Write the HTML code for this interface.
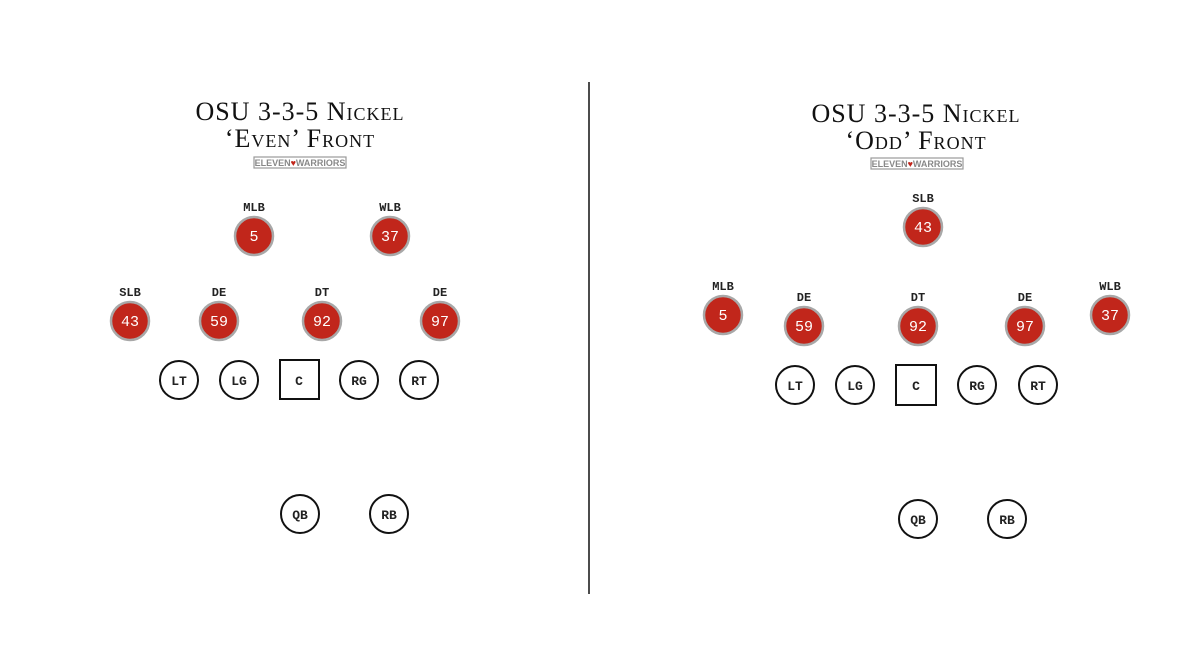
<!DOCTYPE html>
<html><head><meta charset="utf-8"><style>
html,body{margin:0;padding:0;background:#fff;}
svg{display:block}
.t{font-family:"Liberation Serif",serif;font-variant:small-caps;font-size:26px;fill:#111;text-anchor:middle;letter-spacing:1px}
.l{font-family:"Liberation Mono",monospace;font-size:12px;fill:#222;text-anchor:middle;font-weight:bold}
.n{font-family:"Liberation Mono",monospace;font-size:15px;fill:#fff;text-anchor:middle}
.o{font-family:"Liberation Mono",monospace;font-size:13px;fill:#222;text-anchor:middle;font-weight:bold}
.lg{font-family:"Liberation Sans",sans-serif;font-weight:bold;font-size:9px;fill:#888;text-anchor:middle}
</style></head><body>
<svg width="1200" height="655" viewBox="0 0 1200 655">
<line x1="589" y1="82" x2="589" y2="594" stroke="#111" stroke-width="1.5"/>
<defs>
<g id="r"><circle r="19" fill="#c1261b" stroke="#a8a8a8" stroke-width="2.5"/></g>
<g id="w"><circle r="19" fill="#fff" stroke="#111" stroke-width="2"/></g>
</defs>
<!-- Left -->
<text class="t" x="300" y="120">OSU 3-3-5 Nickel</text>
<text class="t" x="300" y="147">‘Even’ Front</text>
<rect x="254" y="157" width="92" height="11" fill="#fff" stroke="#999" stroke-width="1.2"/>
<text class="lg" x="300" y="166">ELEVEN<tspan fill="#c1261b">♥</tspan>WARRIORS</text>
<g transform="translate(254,236)"><use href="#r"/><text class="n" y="5">5</text><text class="l" y="-25">MLB</text></g>
<g transform="translate(390,236)"><use href="#r"/><text class="n" y="5">37</text><text class="l" y="-25">WLB</text></g>
<g transform="translate(130,321)"><use href="#r"/><text class="n" y="5">43</text><text class="l" y="-25">SLB</text></g>
<g transform="translate(219,321)"><use href="#r"/><text class="n" y="5">59</text><text class="l" y="-25">DE</text></g>
<g transform="translate(322,321)"><use href="#r"/><text class="n" y="5">92</text><text class="l" y="-25">DT</text></g>
<g transform="translate(440,321)"><use href="#r"/><text class="n" y="5">97</text><text class="l" y="-25">DE</text></g>
<g transform="translate(179,380)"><use href="#w"/><text class="o" y="5">LT</text></g>
<g transform="translate(239,380)"><use href="#w"/><text class="o" y="5">LG</text></g>
<rect x="280" y="360" width="39" height="39" fill="#fff" stroke="#111" stroke-width="2"/><text class="o" x="299" y="385">C</text>
<g transform="translate(359,380)"><use href="#w"/><text class="o" y="5">RG</text></g>
<g transform="translate(419,380)"><use href="#w"/><text class="o" y="5">RT</text></g>
<g transform="translate(300,514)"><use href="#w"/><text class="o" y="5">QB</text></g>
<g transform="translate(389,514)"><use href="#w"/><text class="o" y="5">RB</text></g>
<!-- Right -->
<text class="t" x="916" y="122">OSU 3-3-5 Nickel</text>
<text class="t" x="916" y="149">‘Odd’ Front</text>
<rect x="871" y="158" width="92" height="11" fill="#fff" stroke="#999" stroke-width="1.2"/>
<text class="lg" x="917" y="167">ELEVEN<tspan fill="#c1261b">♥</tspan>WARRIORS</text>
<g transform="translate(923,227)"><use href="#r"/><text class="n" y="5">43</text><text class="l" y="-25">SLB</text></g>
<g transform="translate(723,315)"><use href="#r"/><text class="n" y="5">5</text><text class="l" y="-25">MLB</text></g>
<g transform="translate(804,326)"><use href="#r"/><text class="n" y="5">59</text><text class="l" y="-25">DE</text></g>
<g transform="translate(918,326)"><use href="#r"/><text class="n" y="5">92</text><text class="l" y="-25">DT</text></g>
<g transform="translate(1025,326)"><use href="#r"/><text class="n" y="5">97</text><text class="l" y="-25">DE</text></g>
<g transform="translate(1110,315)"><use href="#r"/><text class="n" y="5">37</text><text class="l" y="-25">WLB</text></g>
<g transform="translate(795,385)"><use href="#w"/><text class="o" y="5">LT</text></g>
<g transform="translate(855,385)"><use href="#w"/><text class="o" y="5">LG</text></g>
<rect x="896" y="365" width="40" height="40" fill="#fff" stroke="#111" stroke-width="2"/><text class="o" x="916" y="390">C</text>
<g transform="translate(977,385)"><use href="#w"/><text class="o" y="5">RG</text></g>
<g transform="translate(1038,385)"><use href="#w"/><text class="o" y="5">RT</text></g>
<g transform="translate(918,519)"><use href="#w"/><text class="o" y="5">QB</text></g>
<g transform="translate(1007,519)"><use href="#w"/><text class="o" y="5">RB</text></g>
</svg>
</body></html>
